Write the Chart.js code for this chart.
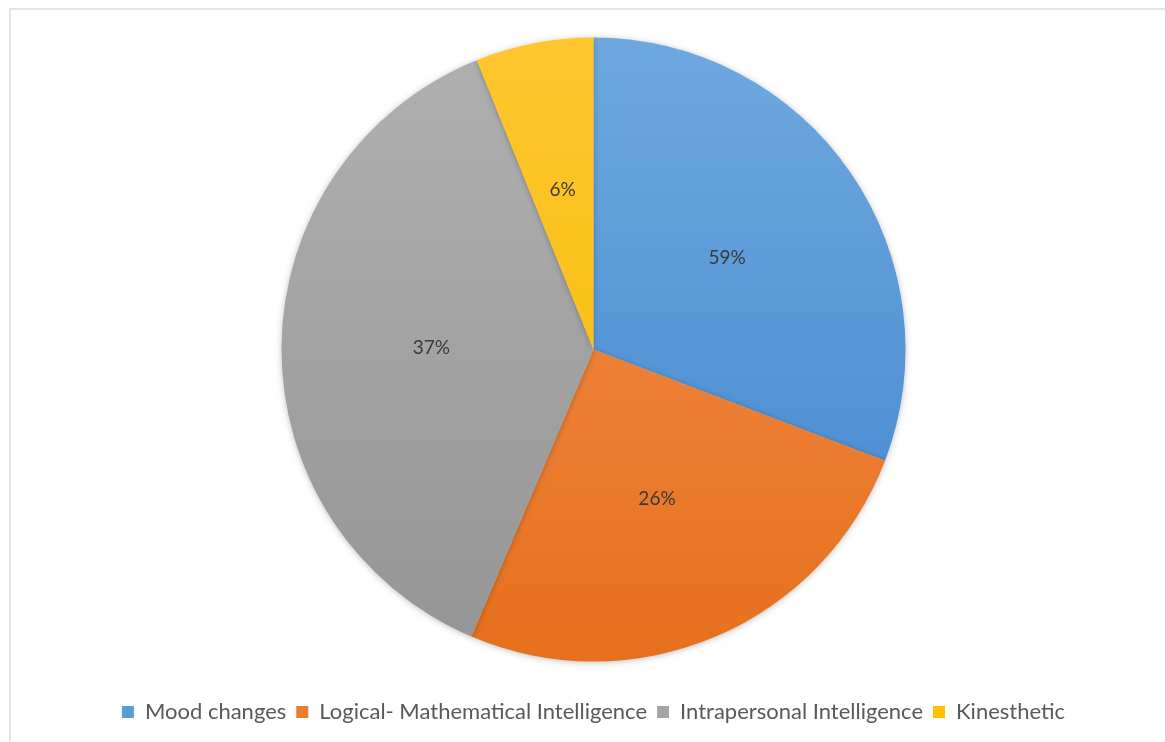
<!DOCTYPE html>
<html>
<head>
<meta charset="utf-8">
<script src="https://cdn.jsdelivr.net/npm/chart.js@4.4.1/dist/chart.umd.min.js"></script>
<style>
    html, body { margin: 0; padding: 0; background: #fff; }
    #frame {
        position: absolute; left: 9px; top: 8px; width: 1170px; height: 740px;
        border-left: 2px solid #e4e4e4; border-top: 2px solid #e4e4e4;
    }
    #wrap { position: absolute; left: 0; top: 0; width: 1165px; height: 742px; }
</style>
</head>
<body>
<div id="frame"></div>
<div id="wrap"><canvas id="pieChart"></canvas></div>
<script>
// slice sizes as drawn, and the labels printed on them
const categories = ["Mood changes", "Logical- Mathematical Intelligence", "Intrapersonal Intelligence", "Kinesthetic"];
const sliceValues = [30.8, 25.6, 37.5, 6.1];
const sliceLabels = ["59%", "26%", "37%", "6%"];

const baseColors = ["#5b9bd5", "#ed7d31", "#a5a5a5", "#ffc000"];
const topColors = ["#6fa8df", "#f39150", "#b0b0b0", "#ffc72e"];
const bottomColors = ["#3f86cf", "#e6701d", "#959595", "#f5b800"];

const sliceFill = (context) => {
    const chart = context.chart;
    const area = chart.chartArea;
    if (!area) {
        return baseColors[context.dataIndex];
    }
    const g = chart.ctx.createLinearGradient(0, 38, 0, 662);
    g.addColorStop(0, topColors[context.dataIndex]);
    g.addColorStop(1, bottomColors[context.dataIndex]);
    return g;
};

// soft shadow under the pie
const pieShadow = {
    id: 'pieShadow',
    beforeDatasetsDraw(chart) {
        const ctx = chart.ctx;
        ctx.save();
        ctx.shadowColor = 'rgba(0,0,0,0.25)';
        ctx.shadowBlur = 6;
        ctx.shadowOffsetY = 1;
    },
    afterDatasetsDraw(chart) {
        chart.ctx.restore();
    }
};

// percentage text inside each slice
const sliceText = {
    id: 'sliceText',
    afterDatasetsDraw(chart) {
        const ctx = chart.ctx;
        const meta = chart.getDatasetMeta(0);
        ctx.save();
        ctx.font = '19px Lato';
        ctx.fillStyle = '#3a3a3a';
        ctx.textAlign = 'center';
        ctx.textBaseline = 'middle';
        meta.data.forEach((arc, i) => {
            const p = arc.getProps(['x', 'y', 'startAngle', 'endAngle', 'outerRadius']);
            const mid = (p.startAngle + p.endAngle) / 2;
            const r = p.outerRadius * 0.52;
            ctx.fillText(sliceLabels[i], p.x + Math.cos(mid) * r, p.y + Math.sin(mid) * r);
        });
        ctx.restore();
    }
};

const ctx = document.getElementById("pieChart");

new Chart(ctx, {
    type: 'pie',
    data: {
        labels: categories,
        datasets: [
            {
                data: sliceValues,
                backgroundColor: sliceFill,
                borderColor: 'rgba(255,255,255,0)',
                borderWidth: 0
            }
        ]
    },
    options: {
        responsive: true,
        maintainAspectRatio: false,
        animation: false,
        radius: 312,
        layout: {
            padding: { top: 8, bottom: 9, left: 22, right: 0 }
        },
        plugins: {
            tooltip: { enabled: false },
            legend: {
                position: 'bottom',
                labels: {
                    font: { family: 'Lato', size: 22 },
                    color: '#595959',
                    boxWidth: 12,
                    boxHeight: 12,
                    padding: 10,
                    generateLabels(chart) {
                        const items = Chart.overrides.pie.plugins.legend.labels.generateLabels(chart);
                        items.forEach((item, i) => {
                            item.fillStyle = baseColors[i];
                            item.strokeStyle = baseColors[i];
                            item.lineWidth = 0;
                        });
                        return items;
                    }
                }
            }
        }
    },
    plugins: [pieShadow, sliceText]
});
</script>
</body>
</html>
